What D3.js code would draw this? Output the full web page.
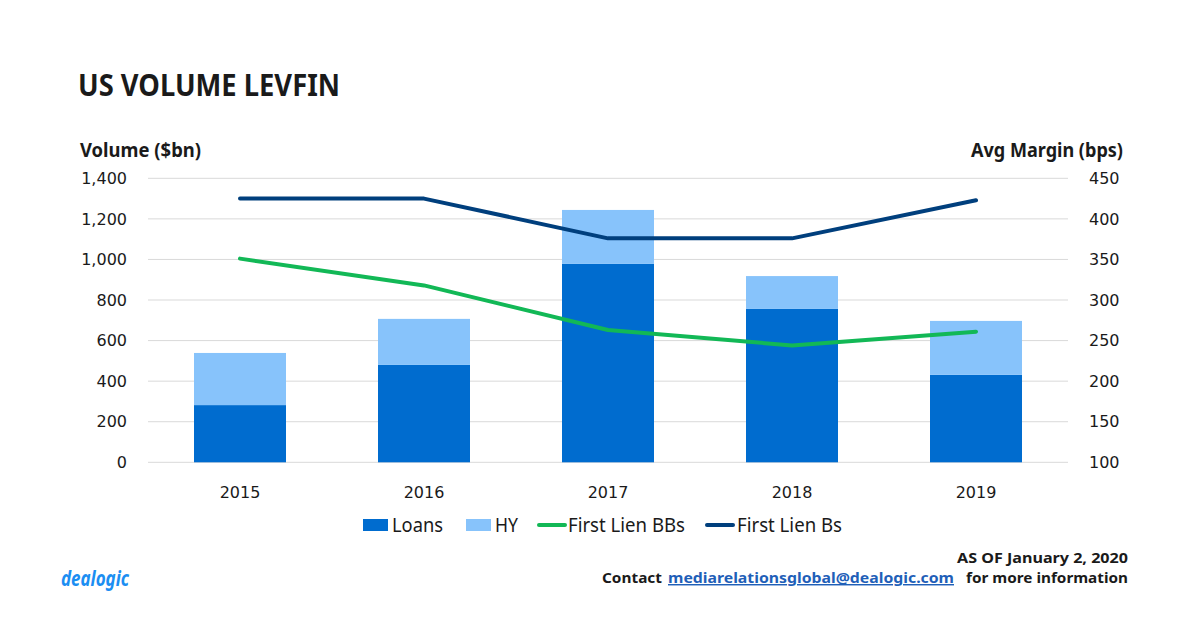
<!DOCTYPE html>
<html>
<head>
<meta charset="utf-8">
<script src="https://cdn.jsdelivr.net/npm/d3@7"></script>
<style>
  body { margin:0; background:#fff; }
  svg text { font-family: "DejaVu Sans", sans-serif; fill:#1a1a1a; }
</style>
</head>
<body>
<div id="chart"></div>
<script>
// values ($bn and bps)
const years = ["2015","2016","2017","2018","2019"];
const loans = [282, 480, 978, 756, 431];
const hy = [257, 227, 266, 162, 266];
const firstLienBBs = [351, 318, 263, 244, 261];
const firstLienBs = [425, 425, 376, 376, 423];
const leftTicks = [0, 200, 400, 600, 800, 1000, 1200, 1400];
const rightTicks = [100, 150, 200, 250, 300, 350, 400, 450];

const W = 1200, H = 624;
const m = { top:178.3, left:148, right:132, bottom:161.7 };
const iw = W - m.left - m.right, ih = H - m.top - m.bottom;

const svg = d3.select("#chart").append("svg").attr("width", W).attr("height", H);
const g = svg.append("g").attr("transform", `translate(${m.left},${m.top})`);

const x = d3.scaleBand().domain(years).range([0, iw]).paddingInner(0.5).paddingOuter(0.25);
const yL = d3.scaleLinear().domain([0, 1400]).range([ih, 0]);
const yR = d3.scaleLinear().domain([100, 450]).range([ih, 0]);

const colLoans = "#006ccf", colHY = "#87c3fb", colBB = "#12b856", colB = "#003f7d";
const sans = "'Noto Sans', sans-serif";

// grid
g.selectAll(".grid").data(leftTicks).enter().append("line")
  .attr("x1", 0).attr("x2", iw)
  .attr("y1", d => yL(d)).attr("y2", d => yL(d))
  .attr("stroke", "#d9d9d9").attr("stroke-width", 1);

// left axis labels
g.selectAll(".lt").data(leftTicks).enter().append("text")
  .attr("x", -21).attr("y", d => yL(d)).attr("dy", "0.36em")
  .attr("text-anchor", "end").style("font-size", "16px")
  .text(d => d3.format(",")(d));

// right axis labels
g.selectAll(".rt").data(rightTicks).enter().append("text")
  .attr("x", iw + 21).attr("y", d => yR(d)).attr("dy", "0.36em")
  .attr("text-anchor", "start").style("font-size", "16px")
  .text(d => d);

// year labels
g.selectAll(".xl").data(years).enter().append("text")
  .attr("x", d => x(d) + x.bandwidth()/2).attr("y", ih + 36)
  .attr("text-anchor", "middle").style("font-size", "16px")
  .text(d => d);

// stacked bars
const rows = years.map((yr, i) => ({ year: yr, Loans: loans[i], HY: hy[i] }));
const stack = d3.stack().keys(["Loans", "HY"])(rows);
const barCol = { Loans: colLoans, HY: colHY };
stack.forEach(layer => {
  g.selectAll(null).data(layer).enter().append("rect")
    .attr("x", d => x(d.data.year))
    .attr("y", d => yL(d[1]))
    .attr("width", x.bandwidth())
    .attr("height", d => yL(d[0]) - yL(d[1]))
    .attr("fill", barCol[layer.key]);
});

// lines on the right axis
const cx = d => x(d) + x.bandwidth()/2;
function drawLine(vals, col) {
  const line = d3.line().x((d, i) => cx(years[i])).y(d => yR(d));
  g.append("path").datum(vals).attr("d", line)
    .attr("fill", "none").attr("stroke", col).attr("stroke-width", 4)
    .attr("stroke-linecap", "round").attr("stroke-linejoin", "round");
}
drawLine(firstLienBBs, colBB);
drawLine(firstLienBs, colB);

// titles
svg.append("text").attr("x", 78).attr("y", 96)
  .style("font-family", sans).style("font-weight", "bold").style("font-size", "30px")
  .attr("textLength", 262).attr("lengthAdjust", "spacingAndGlyphs")
  .text("US VOLUME LEVFIN");
svg.append("text").attr("x", 80).attr("y", 157)
  .style("font-family", sans).style("font-weight", "bold").style("font-size", "20px")
  .attr("textLength", 121).attr("lengthAdjust", "spacingAndGlyphs")
  .text("Volume ($bn)");
svg.append("text").attr("x", 971).attr("y", 157)
  .style("font-family", sans).style("font-weight", "bold").style("font-size", "20px")
  .attr("textLength", 152).attr("lengthAdjust", "spacingAndGlyphs")
  .text("Avg Margin (bps)");

// legend
const legend = [
  { name: "Loans", col: colLoans, type: "box", sx: 363, tx: 392, len: 51 },
  { name: "HY", col: colHY, type: "box", sx: 466, tx: 495, len: 23 },
  { name: "First Lien BBs", col: colBB, type: "line", sx: 539, tx: 568, len: 117 },
  { name: "First Lien Bs", col: colB, type: "line", sx: 707, tx: 737, len: 105 }
];
const lg = svg.append("g");
legend.forEach(d => {
  if (d.type === "box") {
    lg.append("rect").attr("x", d.sx).attr("y", 519).attr("width", 25).attr("height", 12).attr("fill", d.col);
  } else {
    lg.append("line").attr("x1", d.sx).attr("x2", d.sx + 26).attr("y1", 525).attr("y2", 525)
      .attr("stroke", d.col).attr("stroke-width", 4).attr("stroke-linecap", "round");
  }
  lg.append("text").attr("x", d.tx).attr("y", 532)
    .style("font-family", sans).style("font-size", "19px")
    .attr("textLength", d.len).attr("lengthAdjust", "spacingAndGlyphs")
    .text(d.name);
});

// footer, each piece placed on its own
const footBits = [
  { t: "AS OF January 2, 2020", x: 957, y: 563, len: 171, link: false },
  { t: "Contact", x: 602, y: 583, len: 60, link: false },
  { t: "mediarelationsglobal@dealogic.com", x: 668, y: 583, len: 286, link: true },
  { t: "for more information", x: 966, y: 583, len: 162, link: false }
];
footBits.forEach(d => {
  svg.append("text").attr("x", d.x).attr("y", d.y)
    .style("font-family", sans).style("font-weight", "bold").style("font-size", "14.5px")
    .style("fill", d.link ? "#1f5fb8" : "#1a1a1a")
    .style("text-decoration", d.link ? "underline" : "none")
    .attr("textLength", d.len).attr("lengthAdjust", "spacingAndGlyphs")
    .text(d.t);
});

// logo
svg.append("text").attr("x", 61).attr("y", 586)
  .style("font-family", sans).style("font-weight", "bold").style("font-style", "italic")
  .style("font-size", "21px").style("fill", "#1b8ef2")
  .attr("textLength", 68).attr("lengthAdjust", "spacingAndGlyphs")
  .text("dealogic");
</script>
</body>
</html>
